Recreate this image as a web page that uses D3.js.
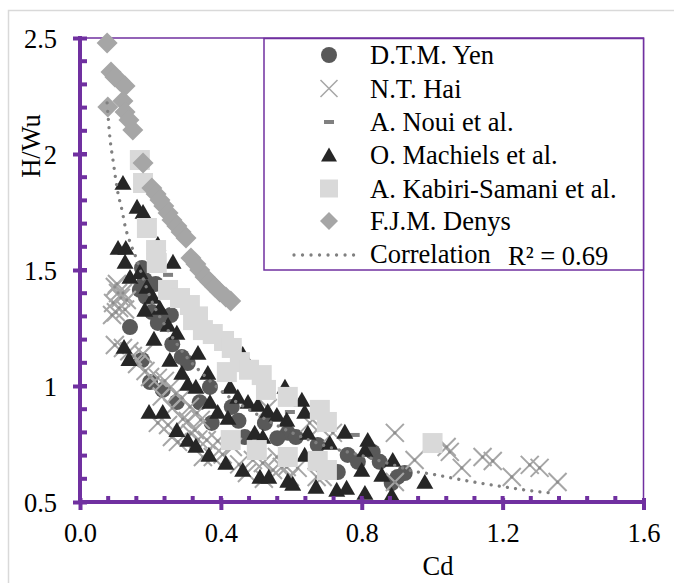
<!DOCTYPE html>
<html>
<head>
<meta charset="utf-8">
<script src="https://cdn.jsdelivr.net/npm/d3@7"></script>
<style>
  body { margin: 0; background: #fff; }
  svg { display: block; font-family: "Liberation Serif", "Times New Roman", serif; }
</style>
</head>
<body>
<div id="chart"></div>
<script>
// Axis ticks
const xTicks = [0, 0.4, 0.8, 1.2, 1.6];
const xTickLabels = ['0.0', '0.4', '0.8', '1.2', '1.6'];
const yTicks = [0.5, 1, 1.5, 2, 2.5];
const yTickLabels = ['0.5', '1', '1.5', '2', '2.5'];

// Series [Cd, H/Wu]
const yen = [
  [0.176, 1.509], [0.184, 1.457], [0.170, 1.414], [0.187, 1.384], [0.204, 1.319],
  [0.227, 1.306], [0.258, 1.306], [0.142, 1.254], [0.221, 1.272], [0.176, 1.112],
  [0.289, 1.125], [0.306, 1.099], [0.199, 1.017], [0.235, 0.983], [0.275, 0.931],
  [0.369, 0.996], [0.374, 0.841], [0.431, 0.910], [0.525, 0.841], [0.590, 0.798],
  [0.613, 0.780], [0.675, 0.746], [0.468, 0.780], [0.732, 0.629], [0.760, 0.703],
  [0.789, 0.673], [0.831, 0.716], [0.851, 0.673], [0.902, 0.608], [0.922, 0.625],
  [0.885, 0.582], [0.215, 1.440], [0.262, 1.180], [0.340, 0.930], [0.450, 0.850],
  [0.560, 0.775]
];
const hai = [
  [0.099, 1.427], [0.108, 1.401], [0.094, 1.358], [0.111, 1.336], [0.133, 1.371],
  [0.122, 1.401], [0.091, 1.306], [0.099, 1.177], [0.122, 1.164], [0.150, 1.129],
  [0.179, 1.138], [0.199, 1.039], [0.221, 1.035], [0.241, 1.022], [0.255, 0.992],
  [0.272, 0.966], [0.289, 0.948], [0.312, 0.910], [0.332, 0.884], [0.343, 0.854],
  [0.221, 0.841], [0.250, 0.832], [0.261, 0.780], [0.278, 0.759], [0.306, 0.849],
  [0.326, 0.810], [0.360, 0.767], [0.377, 0.694], [0.391, 0.763], [0.349, 0.694],
  [0.434, 0.737], [0.491, 0.681], [0.519, 0.668], [0.548, 0.638], [0.587, 0.651],
  [0.596, 0.608], [0.672, 0.608], [0.533, 0.905], [0.652, 0.841], [0.681, 0.823],
  [0.718, 0.798], [0.559, 0.694], [0.573, 0.651], [0.618, 0.647], [0.689, 0.608],
  [0.894, 0.798], [0.950, 0.681], [1.041, 0.737], [1.050, 0.716], [1.084, 0.647],
  [1.143, 0.694], [1.172, 0.677], [1.226, 0.608], [1.277, 0.660], [1.305, 0.647],
  [1.356, 0.586], [0.894, 0.586], [0.105, 1.440], [0.116, 1.380], [0.128, 1.330],
  [0.102, 1.318], [0.140, 1.150], [0.162, 1.095], [0.186, 1.065], [0.232, 0.955],
  [0.262, 0.905], [0.292, 0.858], [0.315, 0.795], [0.336, 0.770], [0.405, 0.705],
  [0.452, 0.662], [0.474, 0.625], [0.522, 0.600]
];
const noui = [
  [0.250, 1.479], [0.596, 0.888], [0.780, 0.789]
];
const machiels = [
  [0.122, 1.875], [0.162, 1.772], [0.179, 1.750], [0.108, 1.595], [0.130, 1.595],
  [0.221, 1.612], [0.128, 1.535], [0.264, 1.535], [0.142, 1.470], [0.170, 1.491],
  [0.190, 1.427], [0.207, 1.384], [0.184, 1.328], [0.227, 1.336], [0.250, 1.263],
  [0.275, 1.229], [0.125, 1.168], [0.139, 1.116], [0.210, 1.203], [0.255, 1.112],
  [0.289, 1.056], [0.306, 1.009], [0.329, 0.996], [0.369, 0.931], [0.391, 0.888],
  [0.420, 0.862], [0.448, 0.953], [0.196, 0.888], [0.235, 0.888], [0.275, 0.810],
  [0.306, 0.767], [0.329, 0.742], [0.366, 0.703], [0.414, 0.668], [0.462, 0.638],
  [0.462, 1.138], [0.582, 0.996], [0.630, 0.940], [0.477, 0.931], [0.505, 0.918],
  [0.533, 0.892], [0.559, 0.875], [0.587, 0.854], [0.638, 0.888], [0.647, 0.798],
  [0.496, 0.798], [0.519, 0.780], [0.638, 0.703], [0.511, 0.608], [0.536, 0.608],
  [0.590, 0.591], [0.604, 0.578], [0.670, 0.565], [0.729, 0.552], [0.757, 0.561],
  [0.809, 0.539], [0.752, 0.802], [0.817, 0.767], [0.809, 0.724], [0.888, 0.681],
  [0.800, 0.638], [0.857, 0.617], [0.885, 0.530], [0.979, 0.586], [0.709, 0.754],
  [0.426, 0.996], [0.363, 1.056], [0.335, 1.142]
];
const kabiri = [
  [0.170, 1.974], [0.179, 1.875], [0.190, 1.681], [0.216, 1.586], [0.218, 1.530],
  [0.250, 1.414], [0.284, 1.379], [0.312, 1.349], [0.321, 1.284], [0.349, 1.241],
  [0.377, 1.224], [0.409, 1.194], [0.431, 1.164], [0.454, 1.103], [0.417, 1.060],
  [0.516, 1.047], [0.528, 0.983], [0.590, 0.953], [0.681, 0.897], [0.701, 0.845],
  [0.428, 0.767], [0.502, 0.724], [0.590, 0.694], [0.675, 0.677], [0.701, 0.638],
  [1.001, 0.754], [0.335, 1.300], [0.480, 1.070]
];
const denys = [
  [0.077, 2.478], [0.088, 2.353], [0.099, 2.332], [0.113, 2.315], [0.128, 2.293],
  [0.079, 2.203], [0.122, 2.228], [0.128, 2.181], [0.139, 2.147], [0.150, 2.103],
  [0.179, 1.961], [0.204, 1.853], [0.216, 1.828], [0.227, 1.802], [0.238, 1.776],
  [0.250, 1.746], [0.261, 1.716], [0.275, 1.690], [0.287, 1.664], [0.301, 1.638],
  [0.315, 1.552], [0.329, 1.526], [0.340, 1.500], [0.355, 1.470], [0.369, 1.448],
  [0.383, 1.427], [0.397, 1.405], [0.414, 1.384], [0.428, 1.366]
];
// Correlation curve
const trendCd = [0.077, 0.085, 0.094, 0.108, 0.119, 0.128, 0.142, 0.16, 0.18, 0.2, 0.25, 0.3,
  0.35, 0.4, 0.5, 0.6, 0.7, 0.8, 0.9, 0.942, 1.0, 1.1, 1.2, 1.3, 1.339];
const trendHW = [2.22, 2.07, 1.97, 1.83, 1.76, 1.69, 1.62, 1.55, 1.46, 1.38, 1.24, 1.13,
  1.05, 0.98, 0.88, 0.80, 0.74, 0.70, 0.655, 0.635, 0.62, 0.591, 0.566, 0.545, 0.539];
const legendLabels = ['D.T.M. Yen', 'N.T. Hai', 'A. Noui et al.', 'O. Machiels et al.',
  'A. Kabiri-Samani et al.', 'F.J.M. Denys'];

const W = 674, H = 583;
const purple = '#7030a0';
const FONT = '26.5px';

const svg = d3.select('#chart').append('svg')
  .attr('width', W).attr('height', H);

// Outer chart border
svg.append('rect')
  .attr('x', 8.5).attr('y', 10.5).attr('width', 700).attr('height', 600)
  .attr('fill', '#fff').attr('stroke', '#d9d9d9').attr('stroke-width', 1.5);

const x = d3.scaleLinear().domain([0, 1.6]).range([80, 643.5]);
const y = d3.scaleLinear().domain([0.5, 2.5]).range([502, 38]);

// Plot frame (top and right)
svg.append('path')
  .attr('d', `M${x(0)},${y(2.5)}H${x(1.6)}V${y(0.5)}`)
  .attr('fill', 'none').attr('stroke', purple).attr('stroke-width', 1.5);

// Marker shapes
function markerPath(type, s) {
  switch (type) {
    case 'circle': return d3.symbol(d3.symbolCircle, Math.PI * s * s)();
    case 'triangle': return `M0,${-s * 0.95}L${s},${s * 0.8}L${-s},${s * 0.8}Z`;
    case 'square': return `M${-s},${-s}H${s}V${s}H${-s}Z`;
    case 'diamond': return `M0,${-s}L${s},0L0,${s}L${-s},0Z`;
    case 'cross': return `M${-s},${-s}L${s},${s}M${-s},${s}L${s},${-s}`;
    case 'dash': return `M${-s},-2H${s}V2H${-s}Z`;
  }
}

const seriesDefs = [
  { data: yen, type: 'circle', size: 8, fill: '#595959' },
  { data: hai, type: 'cross', size: 9, stroke: '#a6a6a6' },
  { data: noui, type: 'dash', size: 5, fill: '#808080' },
  { data: machiels, type: 'triangle', size: 8.5, fill: '#262626' },
  { data: kabiri, type: 'square', size: 10, fill: '#d9d9d9' },
  { data: denys, type: 'diamond', size: 10.5, fill: '#a6a6a6' }
];

const plot = svg.append('g');
seriesDefs.forEach(s => {
  const g = plot.append('g');
  g.selectAll('path')
    .data(s.data)
    .enter()
    .append('path')
    .attr('transform', d => `translate(${x(d[0])},${y(d[1])})`)
    .attr('d', markerPath(s.type, s.size))
    .attr('fill', s.fill || 'none')
    .attr('stroke', s.stroke || 'none')
    .attr('stroke-width', s.stroke ? 2 : 0);
  if (s.type === 'cross') {
    g.selectAll('circle')
      .data(s.data)
      .enter()
      .append('circle')
      .attr('cx', d => x(d[0]))
      .attr('cy', d => y(d[1]))
      .attr('r', 1.6)
      .attr('fill', '#8c8c8c');
  }
});

// Correlation trend (dotted)
const trend = trendCd.map((c, i) => [c, trendHW[i]]);
plot.append('path')
  .datum(trend)
  .attr('d', d3.line().x(d => x(d[0])).y(d => y(d[1])).curve(d3.curveMonotoneX))
  .attr('fill', 'none')
  .attr('stroke', '#808080')
  .attr('stroke-width', 3.3)
  .attr('stroke-linecap', 'round')
  .attr('stroke-dasharray', '0.01 8.2');

// X axis
const xAxis = svg.append('g')
  .attr('transform', `translate(0,${y(0.5)})`);
xAxis.selectAll('line.minor')
  .data(d3.range(0.08, 1.6, 0.08))
  .enter().append('line')
  .attr('x1', d => x(d)).attr('x2', d => x(d))
  .attr('y1', -6).attr('y2', 0)
  .attr('stroke', purple).attr('stroke-width', 4);
xAxis.call(d3.axisBottom(x).tickValues(xTicks).tickSizeOuter(0)
  .tickFormat((d, i) => xTickLabels[i]));
xAxis.select('.domain').attr('stroke', purple).attr('stroke-width', 4)
  .attr('d', `M${x(0) - 2},0H${x(1.6) + 2}`);
xAxis.selectAll('.tick line')
  .attr('y1', -4).attr('y2', 8)
  .attr('stroke', purple).attr('stroke-width', 4);
xAxis.selectAll('.tick text')
  .attr('y', 40).attr('dy', 0)
  .attr('fill', '#000')
  .attr('font-size', FONT)
  .attr('font-family', '"Liberation Serif", serif');

// Y axis
const yAxis = svg.append('g')
  .attr('transform', `translate(${x(0)},0)`);
yAxis.selectAll('line.minor')
  .data(d3.range(0.6, 2.5, 0.1))
  .enter().append('line')
  .attr('x1', 0).attr('x2', 7)
  .attr('y1', d => y(d)).attr('y2', d => y(d))
  .attr('stroke', purple).attr('stroke-width', 4);
yAxis.call(d3.axisLeft(y).tickValues(yTicks).tickSizeOuter(0)
  .tickFormat((d, i) => yTickLabels[i]));
yAxis.select('.domain').attr('stroke', purple).attr('stroke-width', 4)
  .attr('d', `M0,${y(2.5) - 2}V${y(0.5) + 2}`);
yAxis.selectAll('.tick line')
  .attr('x1', -7).attr('x2', 7)
  .attr('stroke', purple).attr('stroke-width', 4);
yAxis.selectAll('.tick text')
  .attr('x', -23).attr('dy', '0.35em')
  .attr('fill', '#000')
  .attr('font-size', FONT)
  .attr('font-family', '"Liberation Serif", serif');

// Axis titles
svg.append('text')
  .attr('x', 438).attr('y', 575)
  .attr('text-anchor', 'middle')
  .attr('font-size', FONT)
  .text('Cd');
svg.append('text')
  .attr('transform', 'translate(40,146) rotate(-90)')
  .attr('text-anchor', 'middle')
  .attr('font-size', FONT)
  .text('H/Wu');

// Legend
const legend = svg.append('g');
legend.append('rect')
  .attr('x', 264).attr('y', 38.5).attr('width', 379.5).attr('height', 231.5)
  .attr('fill', '#fff').attr('stroke', purple).attr('stroke-width', 1.5);
const rowY = [55, 88.5, 122, 155, 188.5, 221, 255];
const legendSizes = [8, 8.5, 5, 8, 9, 9];
seriesDefs.forEach((s, i) => {
  legend.append('path')
    .attr('transform', `translate(329,${rowY[i]})`)
    .attr('d', markerPath(s.type, legendSizes[i]))
    .attr('fill', s.fill || 'none')
    .attr('stroke', s.stroke || 'none')
    .attr('stroke-width', s.stroke ? 1.5 : 0);
  legend.append('text')
    .attr('x', 370).attr('y', rowY[i] + 9)
    .attr('font-size', FONT)
    .text(legendLabels[i]);
});
legend.append('line')
  .attr('x1', 294).attr('x2', 362)
  .attr('y1', rowY[6]).attr('y2', rowY[6])
  .attr('stroke', '#808080').attr('stroke-width', 3.3)
  .attr('stroke-linecap', 'round')
  .attr('stroke-dasharray', '0.01 8.5');
legend.append('text')
  .attr('x', 370).attr('y', rowY[6] + 8)
  .attr('font-size', FONT)
  .text('Correlation');
legend.append('text')
  .attr('x', 508).attr('y', rowY[6] + 10)
  .attr('font-size', FONT)
  .text('R² = 0.69');
</script>
</body>
</html>
